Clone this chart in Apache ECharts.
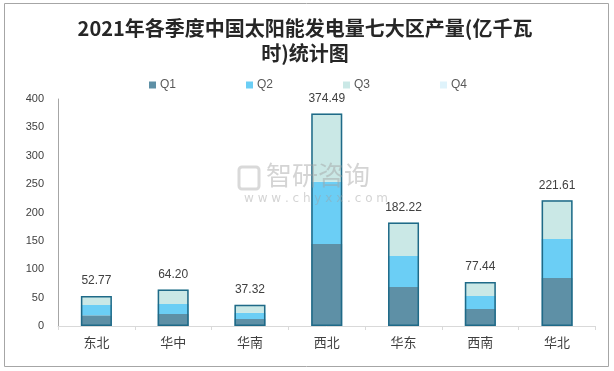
<!DOCTYPE html>
<html><head><meta charset="utf-8">
<script src="https://cdn.jsdelivr.net/npm/echarts@6/dist/echarts.min.js"></script>
<style>html,body{margin:0;padding:0;background:#fff}#c{width:614px;height:371px}</style>
</head><body><div id="c"></div>
<script>
const categories = ['东北','华中','华南','西北','华东','西南','华北'];
const q1 = [18.8, 21.1, 12.3, 144.5, 68.7, 30.0, 84.6];
const q2 = [18.2, 17.7, 10.7, 109.8, 54.6, 22.9, 68.7];
const q3 = [15.77, 25.4, 14.32, 120.19, 58.92, 24.54, 68.31];
const q4 = [0, 0, 0, 0, 0, 0, 0];
const yTicks = [0, 50, 100, 150, 200, 250, 300, 350, 400];
const seriesNames = ['Q1','Q2','Q3','Q4'];

const totals = categories.map((_, i) => +(q1[i] + q2[i] + q3[i] + q4[i]).toFixed(2));
const colors = ['#5E90A6','#6BCEF5','#CAE8E6','#DFF3FB'];
const vals = [q1, q2, q3, q4];

const chart = echarts.init(document.getElementById('c'));
const series = seriesNames.map((n, k) => ({
  name: n, type: 'bar', stack: 'a', barWidth: 31, data: vals[k],
  itemStyle: { color: colors[k], borderWidth: 0 }
}));
series.push({
  name: 'total', type: 'bar', barWidth: 31, barGap: '-100%', z: 5, data: totals,
  itemStyle: { color: 'rgba(0,0,0,0)', borderColor: '#1F6A88', borderWidth: 1.5 },
  label: { show: true, position: 'top', distance: 9, color: '#404040', fontSize: 12, fontFamily: 'Liberation Sans, Arial',
    formatter: p => p.value.toFixed(2) },
  emphasis: { disabled: true }, tooltip: { show: false }
});

chart.setOption({
  animation: false,
  title: {
    text: '2021年各季度中国太阳能发电量七大区产量(亿千瓦\n时)统计图',
    left: 300, top: 11, textAlign: 'center',
    textStyle: { fontSize: 20, fontWeight: 'bold', color: '#262626', lineHeight: 25, fontFamily: 'Noto Sans CJK SC' }
  },
  legend: {
    data: seriesNames, left: 144, top: 74, icon: 'rect', itemWidth: 7, itemHeight: 7, itemGap: 70,
    textStyle: { fontSize: 12, color: '#595959', fontFamily: 'Liberation Sans, Arial', padding: [0,0,0,-1] }
  },
  graphic: [
    { type: 'rect', shape: { x: 4.5, y: 3.5, width: 604, height: 363 }, style: { fill: 'none', stroke: '#A6A6A6', lineWidth: 1 }, silent: true, z: 0 },
    { type: 'text', left: 266, top: 162, style: { text: '智研咨询', fontSize: 26, fill: 'rgba(160,160,160,0.45)', fontFamily: 'Noto Sans CJK SC' }, z: 10 },
    { type: 'text', left: 244, top: 193, style: { text: 'w w w . c h y x x . c o m', fontSize: 12, fill: 'rgba(160,160,160,0.45)', fontFamily: 'DejaVu Sans' }, z: 10 },
    { type: 'rect', shape: { x: 239, y: 167, width: 20, height: 22, r: 3 }, style: { fill: 'none', stroke: 'rgba(160,160,160,0.4)', lineWidth: 3 }, z: 10 }
  ],
  grid: { left: 58, right: 18.5, top: 99, bottom: 45 },
  xAxis: {
    type: 'category', data: categories,
    axisLine: { lineStyle: { color: '#D9D9D9' } },
    axisTick: { show: true, length: 4, lineStyle: { color: '#D9D9D9' } },
    axisLabel: { color: '#404040', fontSize: 13, margin: 10, fontFamily: 'Noto Sans CJK SC' }
  },
  yAxis: {
    type: 'value', min: yTicks[0], max: yTicks[yTicks.length - 1], interval: 50,
    axisLine: { show: true, lineStyle: { color: '#A6A6A6' } },
    axisTick: { show: false },
    splitLine: { show: false },
    axisLabel: { color: '#404040', fontSize: 11, margin: 14, fontFamily: 'Liberation Sans, Arial' }
  },
  series: series
});
</script></body></html>
